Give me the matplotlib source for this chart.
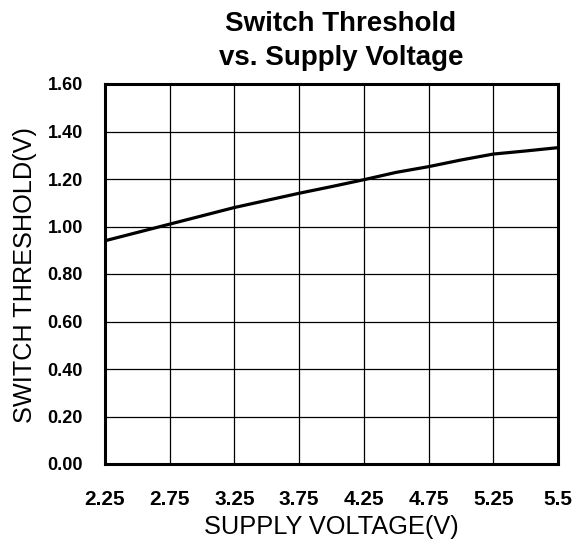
import numpy as np
import matplotlib
matplotlib.use("Agg")
import matplotlib.pyplot as plt

# tick labels on the x axis (evenly spaced in the chart, last step is only 0.25 V)
x_ticks_v = [2.25, 2.75, 3.25, 3.75, 4.25, 4.75, 5.25, 5.5]
y_ticks = [0.0, 0.2, 0.4, 0.6, 0.8, 1.0, 1.2, 1.4, 1.6]

supply_v = [2.25, 2.5, 2.75, 3.0, 3.25, 3.5, 3.75, 4.0, 4.25, 4.5, 4.75, 5.0, 5.25, 5.375, 5.5]
threshold = [0.94, 0.975, 1.01, 1.045, 1.08, 1.11, 1.14, 1.168, 1.197, 1.228, 1.252, 1.28, 1.305, 1.318, 1.332]

plt.rcParams['font.family'] = ['Liberation Sans', 'DejaVu Sans']

fig = plt.figure(figsize=(5.74, 5.41), dpi=100)
ax = fig.add_axes([105 / 574, 77 / 541, 453 / 574, 380 / 541])

# map voltages onto the evenly spaced tick positions
tick_pos = np.arange(len(x_ticks_v))
x_pos = np.interp(supply_v, x_ticks_v, tick_pos)

ax.plot(x_pos, threshold, color='black', lw=2.3)

ax.set_xlim(0, len(x_ticks_v) - 1)
ax.set_ylim(0, 1.6)
ax.set_xticks(tick_pos)
ax.set_xticklabels([f"{v:g}" for v in x_ticks_v], fontsize=15, fontweight='bold')
ax.set_yticks(y_ticks)
ax.set_yticklabels([f"{v:.2f}" for v in y_ticks], fontsize=13, fontweight='bold')
ax.tick_params(length=0, pad=16)
ax.tick_params(axis='x', pad=19)
ax.grid(True, color='black', lw=0.9)
for s in ax.spines.values():
    s.set_linewidth(2.2)

# axis titles placed in figure pixels
fig.text(331 / 574, 1 - 527 / 541, "SUPPLY VOLTAGE(V)", ha='center', va='center',
         fontsize=18.3)
fig.text(25 / 574, 1 - 275 / 541, "SWITCH THRESHOLD(V)", ha='center', va='center',
         rotation=90, fontsize=18.2)

fig.text(341 / 574, 1 - 24 / 541, "Switch Threshold", ha='center', va='center',
         fontsize=20, fontweight='bold')
fig.text(341 / 574, 1 - 58 / 541, "vs. Supply Voltage", ha='center', va='center',
         fontsize=20, fontweight='bold')

fig.savefig("out.png", dpi=100)
